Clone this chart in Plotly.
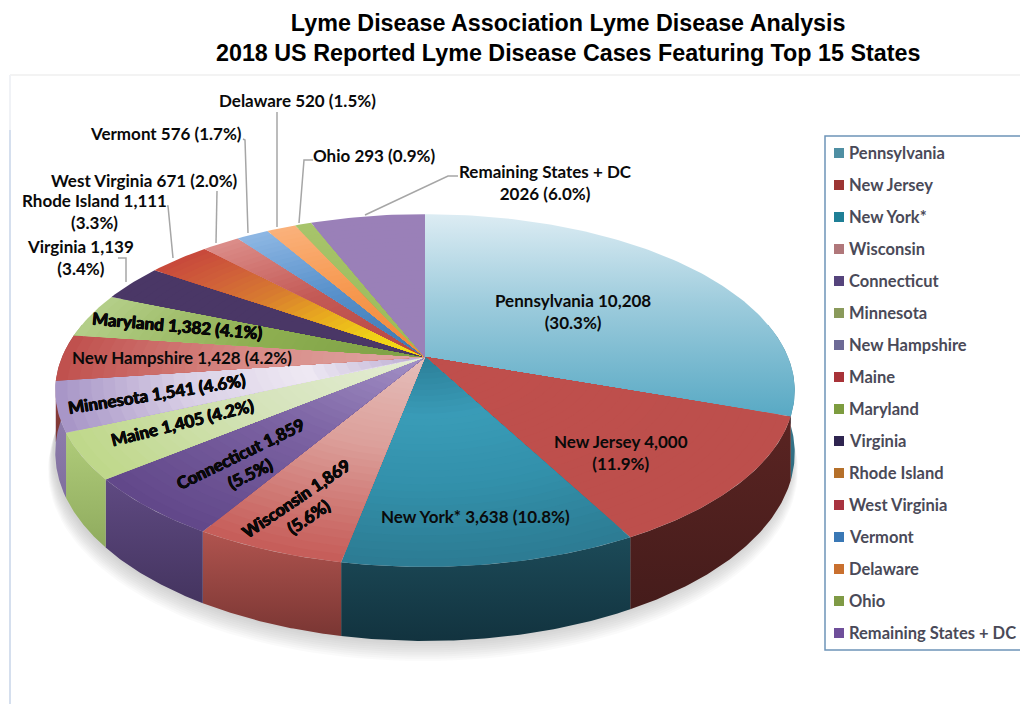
import numpy as np
import plotly.graph_objects as go

# ---------- data ----------
TITLE = "Lyme Disease Association Lyme Disease Analysis<br>2018 US Reported Lyme Disease Cases Featuring Top 15 States"
legend_names = ["Pennsylvania", "New Jersey", "New York*", "Wisconsin", "Connecticut", "Minnesota",
                "New Hampshire", "Maine", "Maryland", "Virginia", "Rhode Island", "West Virginia",
                "Vermont", "Delaware", "Ohio", "Remaining States + DC"]
values = [10208, 4000, 3638, 1869, 1859, 1405, 1541, 1428, 1382, 1139, 1111, 671, 576, 520, 293, 2026]
legend_colors = ["#4f8fa3", "#9c3533", "#1f7f96", "#b0777a", "#55447c", "#8a9a5b", "#6d6a96", "#a83338",
                 "#7d9c3f", "#2f2550", "#b5702a", "#a83340", "#3a78b5", "#c9702f", "#7f9a45", "#6f4f9a"]
# colour along the slice: from the centre of the pie to its rim
radial_stops = [
    ["#5fb0cb", "#5fb0cb"],
    ["#c0504d", "#bd4f4c"],
    ["#2c7f98", "#3a9cb8", "#3391ab", "#2d7c93"],
    ["#e6c0bc", "#dc9f9a", "#c65c58"],
    ["#a593c8", "#7d64a4", "#62488a"],
    ["#e6eed6", "#d6e4bc", "#bfd88a"],
    ["#b8a8d0", "#efeaf4", "#d9cfe6", "#a694c6"],
    ["#e0a8a4", "#d88a86", "#c0504d"],
    ["#7da045", "#8fb052", "#b5cf8a"],
    ["#4a3766", "#4a3766"],
    ["#f8e010", "#f0d018", "#e8a820", "#d87c30", "#d0603a", "#c8493c"],
    ["#b84743", "#c45a56", "#dc8e8a"],
    ["#3c78b0", "#5a92cc", "#8fb8e4"],
    ["#f08a3a", "#f79a52", "#fbb27c"],
    ["#9bbb59", "#a8c56c"],
    ["#9a80b8", "#9a80b8"],
]
wall_colors = [
    ["#4a8ea5", "#2d6a7e"],
    ["#5a2422", "#451c1b"],
    ["#1c4a58", "#12333f"],
    ["#b0544f", "#7a3633"],
    ["#5f4a82", "#44345f"],
    ["#b0cc7a", "#8fab5e"],
    ["#9684b4", "#7f6f9e"],
    ["#a84744", "#7a3633"],
    ["#8fab5e", "#6e8646"],
    ["#3c2b52", "#2c1f3d"],
    ["#b5702a", "#8a5520"],
    ["#b5524e", "#8a3d3a"],
    ["#3f73a8", "#2f5a85"],
    ["#d87f38", "#a8622b"],
    ["#8fab5e", "#6e8646"],
    ["#7d659c", "#5f4c78"],
]
slice_labels = [
    ("Pennsylvania 10,208<br>(30.3%)", 573, 311, 0, False),
    ("New Jersey 4,000<br>(11.9%)", 621, 452, 0, False),
    ("New York* 3,638 (10.8%)", 475, 516, 0, False),
    ("Wisconsin 1,869<br>(5.6%)", 302, 507, -34, True),
    ("Connecticut 1,859<br>(5.5%)", 245, 463, -26, True),
    ("Maine 1,405 (4.2%)", 182, 422, -14, True),
    ("Minnesota 1,541 (4.6%)", 157, 393, -9, True),
    ("New Hampshire 1,428 (4.2%)", 182, 357, 0, False),
    ("Maryland 1,382 (4.1%)", 177, 325, 5, True),
    ("Virginia 1,139<br>(3.4%)", 80, 257, 0, False),
    ("Rhode Island 1,111<br>(3.3%)", 94, 211, 0, False),
    ("West Virginia 671 (2.0%)", 144, 180, 0, False),
    ("Vermont 576 (1.7%)", 166, 133, 0, False),
    ("Delaware 520 (1.5%)", 297, 100, 0, False),
    ("Ohio 293 (0.9%)", 374, 155, 0, False),
    ("Remaining States + DC<br>2026 (6.0%)", 545, 182, 0, False),
]
leader_x = [[118, 126, 126], [167, 168, 173], [217, 216], [243, 245, 248], [277, 277], [313, 304, 299], [458, 448, 365]]
leader_y = [[258, 258, 282], [206, 206, 258], [191, 243], [139, 140, 233], [112, 227], [160, 160, 223], [176, 176, 215]]

LABEL_FONT = "Lato"
TEXT_SIZE = 17

# ---------- projection: a tilted circle seen in perspective ----------
CX, CY, A0, B0, K, DEPTH = 425, 357, 363, 170, 0.19, 60


def project(theta, r=1.0, drop=0.0):
    u, v = r * np.sin(theta), r * np.cos(theta)
    w = 1 + K * v
    return CX + A0 * u / w, CY - B0 * v / w + drop * DEPTH / w


def lerp_color(stops, t):
    rgb = np.array([[int(s[i:i + 2], 16) for i in (1, 3, 5)] for s in stops], float)
    p = t * (len(stops) - 1)
    i = min(int(p), len(stops) - 2)
    c = rgb[i] + (rgb[i + 1] - rgb[i]) * (p - i)
    return "rgb(%d,%d,%d)" % tuple(c)


fractions = np.array(values, float) / sum(values)
edges = np.concatenate([[0], np.cumsum(fractions)]) * 2 * np.pi

fig = go.Figure()


def poly(xs, ys, **kw):
    fig.add_trace(go.Scatter(x=list(xs), y=list(ys), mode="lines", fill="toself", line=dict(width=0),
                             hoverinfo="skip", showlegend=False, **kw))


# soft shadow under the pie
ring = np.linspace(0, 2 * np.pi, 181)
for g in range(10):
    sx, sy = project(ring, 1.0 + 0.0015 * (9 - g), 1.0)
    poly(sx - 2, sy + 1 + 1.7 * (9 - g), fillcolor="rgba(125,125,125,0.04)")

# side wall, drawn from the slices' angles
for i in range(len(values)):
    a0, a1 = max(edges[i], np.pi / 2 - 0.2), min(edges[i + 1], 3 * np.pi / 2 + 0.2)
    if a1 <= a0:
        continue
    t = np.linspace(a0, a1, 60)
    x0, y0 = project(t)
    x1, y1 = project(t, 1.0, 1.0)
    fig.add_trace(go.Scatter(
        x=list(x0) + list(x1[::-1]), y=list(y0) + list(y1[::-1]), mode="lines", fill="toself",
        line=dict(width=0), hoverinfo="skip", showlegend=False,
        fillgradient=dict(type="vertical", colorscale=[[0, wall_colors[i][1]], [1, wall_colors[i][0]]]),
    ))

# top faces; Pennsylvania fades vertically, the others along the radius
BANDS = 32
for i in range(len(values)):
    t = np.linspace(edges[i], edges[i + 1], max(6, int((edges[i + 1] - edges[i]) * 60)))
    if i == 0:
        x, y = project(t)
        fig.add_trace(go.Scatter(
            x=[CX] + list(x) + [CX], y=[CY] + list(y) + [CY], mode="lines", fill="toself", line=dict(width=0),
            hoverinfo="skip", showlegend=False,
            fillgradient=dict(type="vertical", colorscale=[[0, "#58a9c4"], [0.55, "#9ccbdc"], [1, "#dcecf3"]]),
        ))
        continue
    for b in range(BANDS, 0, -1):
        x, y = project(t, b / BANDS)
        poly([CX] + list(x) + [CX], [CY] + list(y) + [CY], fillcolor=lerp_color(radial_stops[i], (b - 0.5) / BANDS))

# leader lines
for lx, ly in zip(leader_x, leader_y):
    fig.add_trace(go.Scatter(x=lx, y=ly, mode="lines", line=dict(color="#a6a6a6", width=1.5),
                             hoverinfo="skip", showlegend=False))

# legend entries
for i, name in enumerate(legend_names):
    fig.add_trace(go.Scatter(
        x=[839], y=[153 + 32 * i], mode="markers", name=name,
        marker=dict(symbol="square", size=10, color=legend_colors[i]),
        hoverinfo="skip", showlegend=False,
    ))
    fig.add_annotation(x=849, y=153 + 32 * i, xref="x", yref="y", text=name, showarrow=False, xanchor="left",
                       xshift=-2, font=dict(family=LABEL_FONT, size=16.5, color="#4a4a58", weight=700))

HEAVY = "0.5px 0 0 #000, -0.5px 0 0 #000, 0 0.4px 0 #000"
for text, x, y, ang, heavy in slice_labels:
    fig.add_annotation(x=x, y=y, xref="x", yref="y", text=text, showarrow=False, textangle=ang,
                       font=dict(family=LABEL_FONT, size=TEXT_SIZE, color="#0a0a0a", weight=700,
                                 shadow=HEAVY if heavy else "none"))

fig.add_annotation(x=568, y=38, xref="x", yref="y", text="<b>" + TITLE.replace("<br>", "</b><br><b>") + "</b>",
                   showarrow=False, font=dict(family="Liberation Sans", size=23.3, color="#000000"))

shapes = [
    dict(type="rect", x0=825, x1=1030, y0=136, y1=650, line=dict(color="#6d94b8", width=1.5), layer="below"),
    dict(type="line", x0=10, x1=1020, y0=75, y1=75, line=dict(color="#f3f3f3", width=2), layer="below"),
    dict(type="line", x0=10, x1=10, y0=75, y1=130, line=dict(color="#f0f2f6", width=2), layer="below"),
    dict(type="line", x0=10, x1=10, y0=130, y1=704, line=dict(color="#d5dfee", width=2), layer="below"),
]
fig.update_layout(
    width=1020, height=704, margin=dict(l=0, r=0, t=0, b=0), paper_bgcolor="white", plot_bgcolor="white",
    xaxis=dict(range=[0, 1020], visible=False, fixedrange=True),
    yaxis=dict(range=[704, 0], visible=False, fixedrange=True),
    showlegend=False, shapes=shapes,
)
fig.write_html("out.html", config={"displayModeBar": False},
               post_script="document.body.style.margin='0';document.body.style.overflow='hidden';")
